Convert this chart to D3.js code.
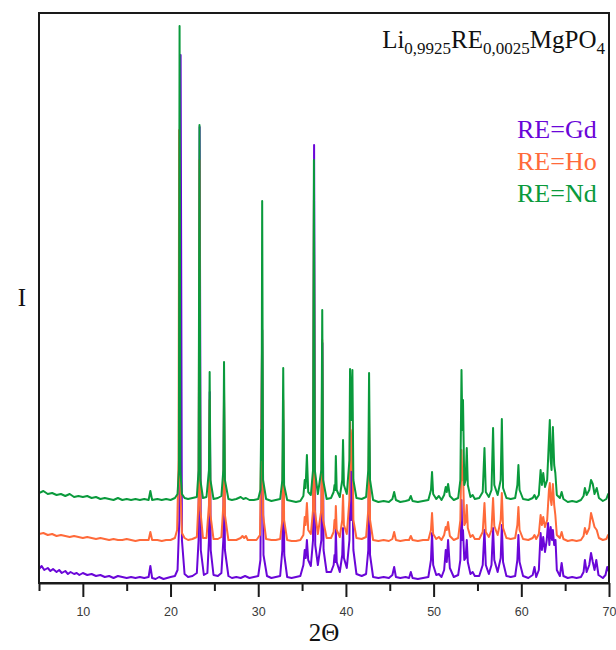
<!DOCTYPE html>
<html>
<head>
<meta charset="utf-8">
<script src="https://cdn.jsdelivr.net/npm/d3@7"></script>
<style>
  body { margin: 0; background: #fff; }
  svg { display: block; }
</style>
</head>
<body>
<svg id="chart" width="616" height="650"></svg>
<script>
// XRD patterns of Li(0.9925)RE(0.0025)MgPO4, RE = Gd, Ho, Nd.
// Each pattern is a list of [2θ (deg), intensity (a.u.)]; patterns are stacked with a vertical offset.
const samples = ["RE=Gd", "RE=Ho", "RE=Nd"];
const colors = ["#6a06d8", "#ff6a3a", "#0a9a3c"];
const offsets = [0, 40, 80];
const xTicks = [10, 20, 30, 40, 50, 60, 70];
const xMinorTicks = [5, 15, 25, 35, 45, 55, 65];

const gd = [[5.0,14],[5.3,17],[5.6,13],[6.0,15],[6.3,12],[6.6,14],[7.0,11],[7.3,13],[7.6,10],[8.0,12],[8.3,9],[8.6,11],[9.0,9],[9.3,10],[9.6,8],[10.0,10],[10.5,8],[11.0,9],[11.5,7],[12.0,8],[12.5,6],[13.0,7],[13.5,5],[14.0,7],[14.5,6],[15.0,5],[15.5,6],[16.0,5],[16.5,6],[17.0,5],[17.5,6],[17.7,17],[17.9,5],[18.3,4],[18.7,6],[19.2,4],[19.6,5],[20.0,6],[20.5,7],[20.8,13],[21.0,63],[21.15,528],[21.3,43],[21.6,9],[22.0,6],[22.5,7],[23.0,10],[23.2,43],[23.32,456],[23.45,33],[23.8,8],[24.2,10],[24.38,43],[24.47,191],[24.58,33],[24.9,8],[25.4,7],[25.8,10],[26.02,43],[26.1,183],[26.2,33],[26.6,7],[27.0,5],[27.5,6],[28.0,5],[28.5,7],[29.0,5],[29.5,6],[30.0,7],[30.25,23],[30.45,253],[30.6,28],[31.0,7],[31.5,5],[32.0,6],[32.5,7],[32.75,33],[32.85,163],[32.97,28],[33.3,6],[33.8,5],[34.3,6],[34.8,7],[35.15,18],[35.3,33],[35.42,25],[35.55,43],[35.7,23],[36.0,17],[36.25,43],[36.37,438],[36.5,38],[36.8,18],[37.2,43],[37.32,240],[37.45,33],[37.8,11],[38.3,11],[38.6,18],[38.7,28],[38.78,21],[38.85,53],[38.95,21],[39.3,11],[39.58,28],[39.67,55],[39.77,25],[40.1,15],[40.4,43],[40.5,121],[40.6,63],[40.72,113],[40.85,33],[41.2,9],[41.8,7],[42.3,9],[42.55,33],[42.65,143],[42.75,28],[43.1,6],[43.7,5],[44.3,6],[44.9,5],[45.3,8],[45.5,16],[45.7,6],[46.2,5],[46.8,6],[47.2,5],[47.4,11],[47.6,5],[48.2,4],[48.8,5],[49.4,6],[49.7,23],[49.82,50],[49.95,18],[50.3,8],[50.6,9],[50.9,6],[51.2,13],[51.38,33],[51.5,21],[51.65,43],[51.85,15],[52.3,6],[52.8,8],[53.05,23],[53.18,83],[53.28,43],[53.35,53],[53.5,23],[53.65,25],[53.78,43],[53.9,21],[54.2,9],[54.45,11],[54.7,7],[55.2,7],[55.6,18],[55.8,53],[55.95,18],[56.3,9],[56.6,18],[56.78,55],[56.92,23],[57.3,11],[57.65,25],[57.78,58],[57.92,21],[58.3,7],[58.8,6],[59.3,7],[59.55,23],[59.67,48],[59.8,21],[60.2,7],[60.8,5],[61.3,8],[61.5,16],[61.7,6],[62.0,13],[62.2,50],[62.35,33],[62.5,46],[62.7,31],[62.9,43],[63.05,60],[63.2,38],[63.35,56],[63.5,43],[63.6,53],[63.75,38],[63.9,43],[64.05,13],[64.4,7],[64.6,20],[64.8,7],[65.3,5],[65.8,6],[66.3,5],[66.8,6],[67.1,11],[67.25,23],[67.45,11],[67.75,18],[67.95,30],[68.15,21],[68.35,13],[68.55,23],[68.8,8],[69.3,5],[69.6,8],[69.8,16],[70.0,11]];

const ho = [[5.0,9],[5.5,10],[6.0,8],[6.5,9],[7.0,7],[7.5,8],[8.0,7],[8.5,6],[9.0,7],[9.5,6],[10.0,5],[10.5,6],[11.0,5],[11.5,4],[12.0,5],[12.5,4],[13.0,3],[13.5,4],[14.0,3],[14.5,3],[15.0,4],[15.5,3],[16.0,2],[16.5,3],[17.0,3],[17.5,3],[17.7,11],[17.9,3],[18.5,3],[19.0,2],[19.5,3],[20.0,3],[20.5,5],[20.75,13],[20.92,83],[20.98,413],[21.08,63],[21.3,10],[21.6,5],[22.0,3],[22.5,4],[23.0,6],[23.2,43],[23.3,383],[23.4,33],[23.7,5],[24.1,5],[24.38,38],[24.46,143],[24.55,28],[24.9,4],[25.4,4],[25.8,6],[26.02,38],[26.1,153],[26.2,28],[26.6,3],[27.0,3],[27.5,3],[28.0,5],[28.2,7],[28.4,5],[28.6,7],[28.8,3],[29.3,3],[29.8,3],[30.2,8],[30.35,103],[30.45,213],[30.55,28],[30.9,4],[31.5,3],[32.0,3],[32.5,4],[32.75,23],[32.85,143],[32.95,23],[33.3,3],[33.8,2],[34.3,2],[34.8,3],[35.15,8],[35.3,26],[35.4,18],[35.55,40],[35.7,13],[36.0,9],[36.25,33],[36.35,343],[36.45,33],[36.8,9],[37.2,33],[37.3,203],[37.4,23],[37.8,5],[38.3,5],[38.6,11],[38.7,23],[38.78,15],[38.85,37],[38.95,13],[39.3,6],[39.58,23],[39.67,48],[39.77,18],[40.1,9],[40.4,43],[40.47,121],[40.6,73],[40.74,113],[40.85,23],[41.2,5],[41.8,4],[42.3,6],[42.55,33],[42.64,123],[42.75,23],[43.1,3],[43.7,2],[44.3,3],[44.9,2],[45.3,4],[45.5,11],[45.7,3],[46.2,2],[46.8,3],[47.2,3],[47.4,7],[47.6,3],[48.2,2],[48.8,3],[49.4,3],[49.7,13],[49.82,30],[49.95,9],[50.3,4],[50.6,6],[50.9,3],[51.2,8],[51.38,16],[51.5,13],[51.65,21],[51.85,7],[52.3,3],[52.8,5],[53.05,23],[53.18,93],[53.28,63],[53.35,73],[53.5,18],[53.65,21],[53.78,38],[53.9,15],[54.2,6],[54.45,8],[54.7,4],[55.2,4],[55.6,11],[55.8,40],[55.95,11],[56.3,6],[56.6,13],[56.78,45],[56.92,17],[57.3,8],[57.65,23],[57.78,50],[57.92,15],[58.3,5],[58.8,4],[59.3,5],[59.55,18],[59.67,36],[59.8,13],[60.2,4],[60.8,3],[61.3,5],[61.5,8],[61.7,4],[62.0,9],[62.2,28],[62.35,18],[62.5,26],[62.7,16],[62.95,23],[63.15,53],[63.25,60],[63.35,43],[63.45,38],[63.6,59],[63.75,38],[63.88,28],[64.05,8],[64.4,5],[64.6,11],[64.8,4],[65.3,2],[65.8,3],[66.3,2],[66.8,3],[67.1,7],[67.25,15],[67.45,9],[67.75,15],[67.95,30],[68.15,23],[68.35,16],[68.6,13],[68.85,5],[69.3,3],[69.7,4],[69.9,8],[70.0,6]];

const nd = [[5.0,10],[5.5,12],[6.0,9],[6.5,10],[7.0,8],[7.5,9],[8.0,7],[8.5,9],[9.0,6],[9.5,7],[10.0,6],[10.5,7],[11.0,5],[11.5,6],[12.0,4],[12.5,5],[13.0,4],[13.5,3],[14.0,5],[14.5,3],[15.0,4],[15.5,3],[16.0,4],[16.5,3],[17.0,4],[17.5,3],[17.7,12],[17.9,3],[18.5,4],[19.0,3],[19.5,4],[20.0,3],[20.5,5],[20.8,9],[20.95,33],[21.03,477],[21.12,33],[21.3,9],[21.6,5],[22.0,4],[22.5,5],[23.0,6],[23.2,33],[23.3,378],[23.4,23],[23.7,5],[24.1,6],[24.38,33],[24.46,131],[24.55,23],[24.9,4],[25.4,5],[25.8,7],[26.02,33],[26.1,141],[26.2,23],[26.6,4],[27.0,3],[27.5,4],[28.0,6],[28.3,4],[28.6,5],[29.0,3],[29.5,3],[30.0,4],[30.25,13],[30.33,73],[30.38,43],[30.45,302],[30.55,23],[30.9,4],[31.5,2],[32.0,3],[32.5,4],[32.75,23],[32.85,135],[32.95,18],[33.3,3],[33.8,2],[34.3,1],[34.8,2],[35.15,7],[35.3,23],[35.4,15],[35.55,48],[35.7,11],[36.0,8],[36.25,33],[36.35,343],[36.45,33],[36.8,9],[37.2,33],[37.3,193],[37.4,23],[37.8,4],[38.3,5],[38.6,11],[38.7,18],[38.78,13],[38.85,47],[38.95,13],[39.3,6],[39.58,23],[39.67,63],[39.77,18],[40.1,9],[40.4,43],[40.47,134],[40.6,83],[40.74,133],[40.85,23],[41.2,5],[41.8,4],[42.3,6],[42.55,33],[42.64,130],[42.75,23],[43.1,3],[43.7,1],[44.3,2],[44.9,1],[45.3,4],[45.5,11],[45.7,3],[46.2,1],[46.8,2],[47.2,3],[47.4,7],[47.6,2],[48.2,1],[48.8,2],[49.4,3],[49.7,13],[49.82,31],[49.95,9],[50.3,4],[50.6,7],[50.9,3],[51.2,8],[51.38,16],[51.5,11],[51.65,19],[51.85,7],[52.3,3],[52.8,5],[53.05,23],[53.18,133],[53.28,73],[53.35,103],[53.5,18],[53.65,23],[53.78,55],[53.9,18],[54.2,6],[54.45,8],[54.7,4],[55.2,5],[55.6,11],[55.8,55],[55.95,11],[56.3,6],[56.6,13],[56.78,75],[56.92,18],[57.3,8],[57.65,23],[57.78,84],[57.92,15],[58.3,5],[58.8,4],[59.3,5],[59.55,18],[59.67,38],[59.8,13],[60.2,4],[60.8,3],[61.3,5],[61.5,8],[61.7,4],[62.0,8],[62.2,33],[62.35,18],[62.5,30],[62.7,16],[62.95,23],[63.15,63],[63.25,83],[63.35,43],[63.45,33],[63.6,76],[63.75,38],[63.88,30],[64.05,8],[64.4,5],[64.6,11],[64.8,4],[65.3,1],[65.8,2],[66.3,1],[66.8,3],[67.1,7],[67.25,15],[67.45,8],[67.75,13],[67.95,23],[68.15,19],[68.35,9],[68.6,15],[68.85,5],[69.3,2],[69.7,4],[69.9,9],[70.0,6]];

const patterns = [gd, ho, nd];

const svg = d3.select("#chart");
const margin = { left: 39, right: 7, top: 13, bottom: 67 };
const W = 616, H = 650;
const x = d3.scaleLinear().domain([5, 70]).range([margin.left, W - margin.right]);
const y = d3.scaleLinear().domain([0, 570]).range([H - margin.bottom, margin.top]);

svg.append("defs").append("clipPath").attr("id", "plot-clip")
  .append("rect")
  .attr("x", x(5)).attr("y", y(570))
  .attr("width", x(70) - x(5)).attr("height", y(0) - y(570));

// patterns, Gd at the bottom and drawn first
const line = d3.line().x(d => x(d[0])).y(d => y(d[1]));
const plot = svg.append("g").attr("clip-path", "url(#plot-clip)");
patterns.forEach((p, i) => {
  plot.append("path")
    .datum(p.map(d => [d[0], d[1] + offsets[i]]))
    .attr("fill", "none")
    .attr("stroke", colors[i])
    .attr("stroke-width", 2)
    .attr("stroke-linejoin", "round")
    .attr("d", line);
});

// frame
svg.append("rect")
  .attr("x", x(5)).attr("y", y(570))
  .attr("width", x(70) - x(5)).attr("height", y(0) - y(570))
  .attr("fill", "none").attr("stroke", "#1a1a1a").attr("stroke-width", 2);

// x axis: major ticks with labels, minor ticks without
const axisMajor = svg.append("g")
  .attr("transform", `translate(0,${y(0)})`)
  .call(d3.axisBottom(x).tickValues(xTicks).tickSize(14).tickSizeOuter(0).tickFormat(d3.format("d")));
axisMajor.select(".domain").attr("stroke", "#1a1a1a").attr("stroke-width", 2);
axisMajor.selectAll(".tick line").attr("stroke", "#1a1a1a").attr("stroke-width", 2);
axisMajor.selectAll(".tick text")
  .attr("y", 24)
  .attr("fill", "#3a3a3a")
  .style("font-family", "'Liberation Sans', Arial, sans-serif")
  .style("font-size", "12.5px");

const axisMinor = svg.append("g")
  .attr("transform", `translate(0,${y(0)})`)
  .call(d3.axisBottom(x).tickValues(xMinorTicks).tickSize(8).tickSizeOuter(0).tickFormat(""));
axisMinor.select(".domain").remove();
axisMinor.selectAll(".tick line").attr("stroke", "#1a1a1a").attr("stroke-width", 2);

const serif = "'Liberation Serif', 'Times New Roman', serif";

// axis titles
svg.append("text")
  .attr("x", (x(5) + x(70)) / 2).attr("y", 641)
  .attr("text-anchor", "middle")
  .style("font-family", serif).style("font-size", "25px").attr("fill", "#111")
  .text("2Θ");

svg.append("text")
  .attr("transform", `translate(22,${(y(0) + y(570)) / 2 + 8})`)
  .attr("text-anchor", "middle")
  .style("font-family", serif).style("font-size", "25px").attr("fill", "#111")
  .text("I");

// compound formula with subscripts
const formula = [["Li", false], ["0,9925", true], ["RE", false], ["0,0025", true], ["MgPO", false], ["4", true]];
const title = svg.append("text")
  .attr("x", 605).attr("y", 48)
  .attr("text-anchor", "end")
  .style("font-family", serif).attr("fill", "#111");
let shifted = false;
formula.forEach(([t, sub]) => {
  const ts = title.append("tspan").text(t).style("font-size", sub ? "17px" : "25px");
  if (sub && !shifted) { ts.attr("dy", 6); shifted = true; }
  else if (!sub && shifted) { ts.attr("dy", -6); shifted = false; }
});

// legend as coloured labels
samples.forEach((s, i) => {
  svg.append("text")
    .attr("x", 517).attr("y", 138 + i * 32)
    .style("font-family", serif).style("font-size", "26px")
    .attr("fill", colors[i])
    .text(s);
});
</script>
</body>
</html>
